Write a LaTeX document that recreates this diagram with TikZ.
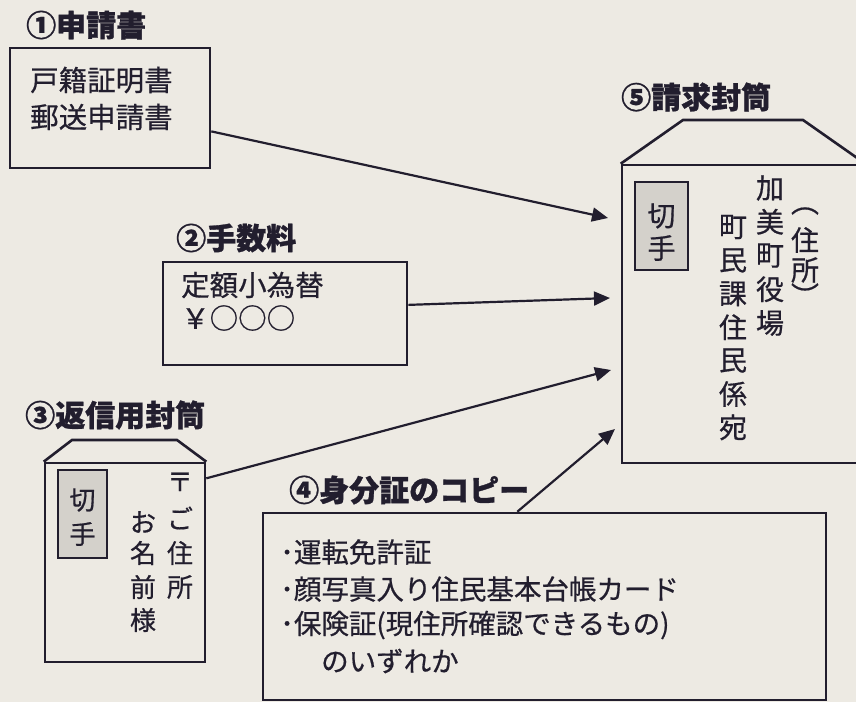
\documentclass[tikz,border=0pt]{standalone}
\usepackage{fontspec}
\setmainfont{Noto Sans CJK JP}
\newfontfamily\gothic{Noto Sans CJK JP}[FakeBold=0.6]
\newfontfamily\headfont{Noto Sans CJK JP}[BoldFeatures={FakeBold=1}]
\usetikzlibrary{arrows.meta}

\definecolor{paper}{RGB}{237,234,227}
\definecolor{ink}{RGB}{34,30,46}
\definecolor{stampgray}{RGB}{212,209,203}

\newcommand{\tatebig}{\fontsize{28}{33}\gothic}
\newcommand{\tatesmall}{\fontsize{26}{31}\gothic}

\tikzset{
  frame/.style={draw=ink, line width=2.6pt, inner sep=0pt},
  flap/.style={draw=ink, line width=2.6pt},
  heading/.style={anchor=west, inner sep=0pt, text=ink, font=\fontsize{30}{34}\headfont\bfseries},
  bodytext/.style={anchor=west, inner sep=0pt, text=ink, font=\fontsize{28.5}{33}\gothic},
  tate/.style={inner sep=0pt, text=ink},
  stampbox/.style={draw=ink, line width=2pt, fill=stampgray, inner sep=0pt},
  pointer/.style={draw=ink, line width=2.2pt, -{Triangle[length=16pt,width=14pt]}}
}

\begin{document}
\begin{tikzpicture}[x=1pt, y=-1pt]
            % Paper
            \useasboundingbox (0,0) rectangle (856,702);
            \clip (0,0) rectangle (856,702);
            \fill[paper] (0,0) rectangle (856,702);
            % (1) application form
            \node[heading] (t1) at (26,25) {①申請書};
            \node[frame, minimum width=200pt, minimum height=120pt] (shinsei) at (110,108) {};
            \node[bodytext] (s1) at (30,80) {戸籍証明書};
            \node[bodytext] (s2) at (30,117) {郵送申請書};
            % (2) fee
            \node[heading] (t2) at (176,238) {②手数料};
            \node[frame, minimum width=244pt, minimum height=103pt] (fee) at (285,313.5) {};
            \node[bodytext] (f1) at (181,285) {定額小為替};
            \node[bodytext] (f2) at (181,318) {￥○○○};
            % (3) return envelope
            \node[heading] (t3) at (25,415) {③返信用封筒};
            \node[frame, minimum width=160pt, minimum height=199pt] (henshin) at (125,562.5) {};
            \draw[flap] (henshin.north west) -- (72,440) -- (177,440) -- (henshin.north east);
            \node[stampbox, minimum width=49pt, minimum height=88pt] (kitte3) at (82.5,514) {};
            \node[tate, font=\fontsize{26}{30}\gothic] (kitte3a) at (82.5,500) {切};
            \node[tate, font=\fontsize{26}{30}\gothic] (kitte3b) at (82.5,534) {手};
            \foreach \ch/\y [count=\k] in {〒/482, ご/518, 住/553, 所/587}
              \node[tate, font=\tatesmall] (jusho-\k) at (180,\y) {\ch};
            \foreach \ch/\y [count=\k] in {お/522, 名/553, 前/587, 様/620}
              \node[tate, font=\tatesmall] (namae-\k) at (143,\y) {\ch};
            % (4) ID copy
            \node[heading] (t4) at (289,490) {④身分証のコピー};
            \node[frame, minimum width=563pt, minimum height=187pt] (mibun) at (544.5,606.5) {};
            \node[bodytext, font=\fontsize{27.5}{33}\gothic] (m1) at (280,552) {･運転免許証};
            \node[bodytext, font=\fontsize{27.5}{33}\gothic] (m2) at (280,589) {･顔写真入り住民基本台帳カード};
            \node[bodytext, font=\fontsize{27.5}{33}\gothic] (m3) at (280,625) {･保険証(現住所確認できるもの)};
            \node[bodytext, font=\fontsize{27.5}{33}\gothic] (m4) at (321,661) {のいずれか};
            % (5) request envelope
            \node[heading] (t5) at (621,97) {⑤請求封筒};
            \node[frame, minimum width=242pt, minimum height=298pt] (seikyu) at (743,314) {};
            \draw[flap] (seikyu.north west) -- (683,120) -- (803,120) -- (seikyu.north east);
            \node[stampbox, minimum width=53pt, minimum height=88pt] (kitte5) at (661.5,226) {};
            \node[tate, font=\fontsize{28}{30}\gothic] (kitte5a) at (661.5,216) {切};
            \node[tate, font=\fontsize{28}{30}\gothic] (kitte5b) at (661.5,248) {手};
            \foreach \ch [count=\k] in {加,美,町,役,場}
              \node[tate, font=\tatebig] (kami-\k) at (770,{188+33.75*(\k-1)}) {\ch};
            \foreach \ch [count=\k] in {町,民,課,住,民,係,宛}
              \node[tate, font=\tatebig] (kakari-\k) at (733,{227+33.4*(\k-1)}) {\ch};
            \foreach \ch/\y [count=\k] in {︵/211, 住/240, 所/270, ︶/295}
              \node[tate, font=\tatebig] (addr-\k) at (805,\y) {\ch};
            % Pointers into the envelope
            \coordinate (p1) at (608,218);
            \coordinate (p2) at (610,298);
            \coordinate (p3) at (611,370);
            \coordinate (p4) at (615,429);
            \draw[pointer] (shinsei.-13) -- (p1);
            \draw[pointer] (fee.4) -- (p2);
            \draw[pointer] (henshin.46) -- (p3);
            \draw[pointer] (mibun.106) -- (p4);
\end{tikzpicture}
\end{document}
